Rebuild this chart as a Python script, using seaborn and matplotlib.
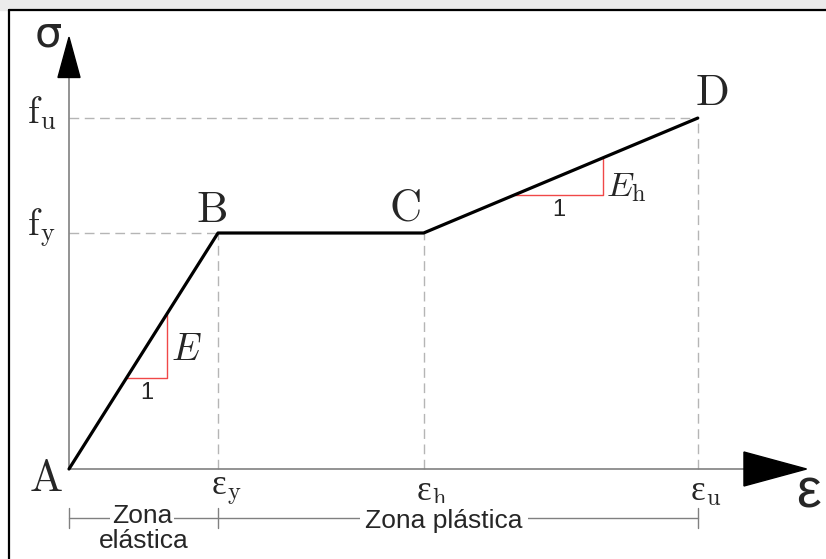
import numpy as np
import pandas as pd
import matplotlib.pyplot as plt
import seaborn as sns
from matplotlib.patches import Rectangle
from matplotlib.lines import Line2D

sns.set_theme(style='white')
plt.rcParams['font.family'] = ['Liberation Sans', 'DejaVu Sans']
plt.rcParams['mathtext.fontset'] = 'cm'

# puntos de la curva tensión-deformación (unidades: eps/eps_y, sigma/f_y)
point_labels = ['A', 'B', 'C', 'D']
strain = [0.0, 1.0, 2.38, 4.22]
stress = [0.0, 1.0, 1.0, 1.487]

x_tick_labels = [r'ε$_\mathrm{y}$', r'ε$_\mathrm{h}$', r'ε$_\mathrm{u}$']
y_tick_labels = [r'$\mathrm{f_y}$', r'$\mathrm{f_u}$']

# posiciones de los triángulos de pendiente (en deformación)
elastic_tri = [0.385, 0.655]
hard_tri = [2.99, 3.585]

x_axis_end = 4.95
y_axis_end = 1.83

df = pd.DataFrame({'strain': strain, 'stress': stress})

fig = plt.figure(figsize=(8.26, 5.59), dpi=100)
ax = fig.add_axes([0, 0, 1, 1])
ax.set_xlim(-69 / 149, (826 - 69) / 149)
ax.set_ylim((469 - 559) / 236, 469 / 236)
ax.axis('off')

# marco
fig.patches.append(Rectangle((0, 1 - 10 / 559), 1, 10 / 559, transform=fig.transFigure,
                             color='#ebebeb', zorder=0))
fig.add_artist(Line2D([9 / 826, 1], [1 - 10 / 559, 1 - 10 / 559], color='black', lw=1.6))
fig.add_artist(Line2D([9 / 826, 9 / 826], [0, 1 - 10 / 559], color='black', lw=1.6))

# líneas discontinuas de referencia
dash = dict(color='#b5b5b5', lw=1.0, dashes=(7, 4), zorder=1)
for xv, yv in zip(strain[1:], stress[1:]):
    ax.plot([xv, xv], [0, yv], **dash)
for yv, xv in [(stress[1], strain[1]), (stress[3], strain[3])]:
    ax.plot([0, xv], [yv, yv], **dash)

# ejes
ax.plot([0, x_axis_end - 0.4], [0, 0], color='#808080', lw=1.2, zorder=2)
ax.plot([0, 0], [0, y_axis_end - 0.17], color='#808080', lw=1.2, zorder=2)
ax.fill([x_axis_end - 0.42, x_axis_end, x_axis_end - 0.42], [0.072, 0, -0.072], color='black', zorder=3)
ax.fill([-0.074, 0, 0.074], [y_axis_end - 0.171, y_axis_end, y_axis_end - 0.171], color='black', zorder=3)

# curva
sns.lineplot(data=df, x='strain', y='stress', color='black', lw=2.3, ax=ax, zorder=4,
             solid_capstyle='round', solid_joinstyle='round')

# triángulos de pendiente
red = '#f04848'
for tri in (elastic_tri, hard_tri):
    y0 = np.interp(tri[0], strain, stress)
    y1 = np.interp(tri[1], strain, stress)
    ax.plot([tri[0], tri[1], tri[1]], [y0, y0, y1], color=red, lw=1.0, zorder=3)

y0 = np.interp(elastic_tri[0], strain, stress)
ax.annotate('1', (np.mean(elastic_tri), y0), xytext=(0, -11), textcoords='offset points',
            ha='center', va='center', fontsize=17)
ax.annotate(r'$E$', (elastic_tri[1], np.interp(np.mean(elastic_tri), strain, stress)),
            xytext=(14, -3), textcoords='offset points', ha='center', va='center', fontsize=27)
y0 = np.interp(hard_tri[0], strain, stress)
ax.annotate('1', (np.mean(hard_tri), y0), xytext=(0, -11), textcoords='offset points',
            ha='center', va='center', fontsize=17)
ax.annotate(r'$E_\mathrm{h}$', (hard_tri[1], np.interp(np.mean(hard_tri), strain, stress)),
            xytext=(17, -8), textcoords='offset points', ha='center', va='center', fontsize=25)

# etiquetas de los puntos
offsets = [(-16.5, -7.5), (-5, 16.5), (-13.5, 17.5), (10, 18)]
for lab, xv, yv, off in zip(point_labels, strain, stress, offsets):
    ax.annotate(r'$\mathrm{%s}$' % lab, (xv, yv), xytext=off, textcoords='offset points',
                ha='center', va='center', fontsize=32)

# etiquetas de los ejes
for lab, xv in zip(x_tick_labels, strain[1:]):
    ax.annotate(lab, (xv, 0), xytext=(6, -16.5), textcoords='offset points',
                ha='center', va='center', fontsize=25, family=['Liberation Serif', 'DejaVu Serif'])
for lab, yv in zip(y_tick_labels, [stress[1], stress[3]]):
    ax.annotate(lab, (0, yv), xytext=(-20, 3.5), textcoords='offset points',
                ha='center', va='center', fontsize=27)
ax.text(-0.141, 1.839, 'σ', ha='center', va='center', fontsize=31, family='DejaVu Sans')
ax.text(4.96, -0.102, 'ε', ha='center', va='center', fontsize=40)

# zonas
yb = -0.208
ax.plot([0, strain[3]], [yb, yb], color='#808080', lw=1.0, zorder=2)
for xv in [0, strain[1], strain[3]]:
    ax.plot([xv, xv], [yb - 0.042, yb + 0.042], color='#808080', lw=1.0, zorder=2)
white = dict(facecolor='white', edgecolor='none', pad=1.5)
ax.text(0.49, yb + 0.01, 'Zona', ha='center', va='center', fontsize=19, bbox=white, zorder=5)
ax.text(0.50, -0.305, 'elástica', ha='center', va='center', fontsize=19, zorder=5)
ax.text(2.517, yb - 0.012, 'Zona plástica', ha='center', va='center', fontsize=19,
        bbox=dict(facecolor='white', edgecolor='none', pad=4), zorder=5)

plt.savefig('out.png', dpi=100)
